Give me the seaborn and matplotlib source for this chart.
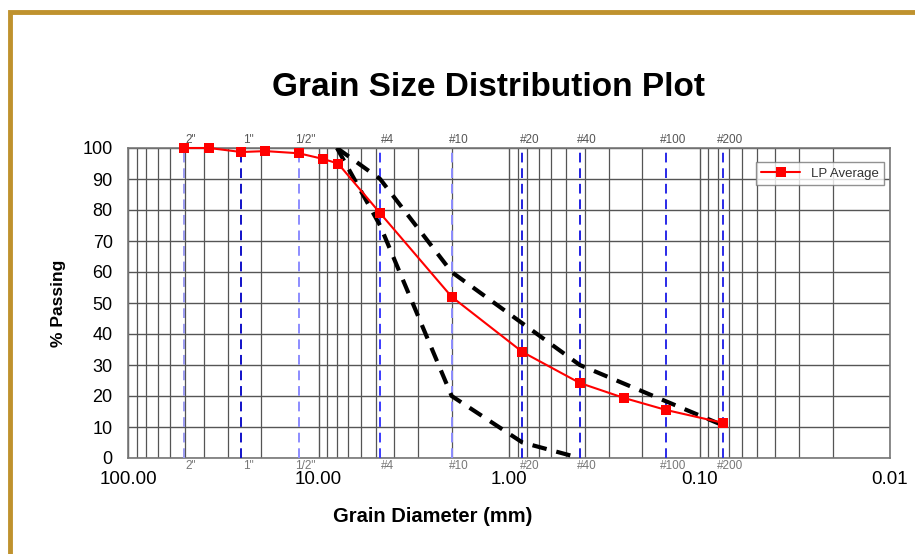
import numpy as np
import pandas as pd
import seaborn as sns
import matplotlib.pyplot as plt
from matplotlib.patches import Rectangle
from matplotlib.ticker import FixedLocator, NullFormatter
import matplotlib.transforms as mtransforms

# LP average gradation (grain diameter in mm, % passing)
lp_diam = [50.8, 37.5, 25.4, 19.0, 12.7, 9.5, 7.9, 4.75, 2.0, 0.85, 0.425, 0.25, 0.15, 0.075]
lp_pass = [100, 100, 98.7, 99, 98.3, 96.5, 95, 79, 52, 34.2, 24.2, 19.4, 15.5, 11.3]

# spec envelope (black dashed)
upper_diam = [8.0, 4.75, 2.0, 0.425, 0.075]
upper_pass = [100, 90, 60, 30, 10.5]
lower_diam = [8.0, 4.75, 2.0, 0.85, 0.425]
lower_pass = [100, 75, 20, 5, 0]

# sieve markers
sieve_names = ['2"', '1"', '1/2"', '#4', '#10', '#20', '#40', '#100', '#200']
sieve_mm = [50.8, 25.4, 12.7, 4.75, 2.0, 0.85, 0.425, 0.15, 0.075]
sieve_colors = ['#9a9af0', '#1010c8', '#8c8cff', '#3a3aff', '#8c8cff',
                '#2020e0', '#2020e0', '#2a2ae8', '#2a2ae8']

x_ticks = [100, 10, 1, 0.1, 0.01]
x_tick_labels = ['100.00', '10.00', '1.00', '0.10', '0.01']
y_ticks = list(range(0, 101, 10))

sns.set_style("white")
plt.rcParams['font.family'] = ['Liberation Sans', 'DejaVu Sans']
plt.rcParams['text.color'] = 'black'
plt.rcParams['axes.labelcolor'] = 'black'
plt.rcParams['xtick.color'] = 'black'
plt.rcParams['ytick.color'] = 'black'

fig = plt.figure(figsize=(9.15, 5.54), dpi=100)
ax = fig.add_axes([128 / 915, 96 / 554, 762 / 915, 310 / 554])

# gold frame around the figure
fig.patches.append(Rectangle((10 / 915, -0.1), 1.2, (554 - 12) / 554 + 0.1,
                             transform=fig.transFigure, fill=False,
                             edgecolor='#bf922e', linewidth=3.5, zorder=0))

ax.set_xscale('log')
ax.set_xlim(100, 0.01)
ax.set_ylim(0, 100)

# log grid
minor = [m * 10.0 ** e for e in range(-2, 2) for m in range(2, 10)]
ax.xaxis.set_major_locator(FixedLocator(x_ticks))
ax.xaxis.set_minor_locator(FixedLocator(minor))
ax.xaxis.set_minor_formatter(NullFormatter())
ax.set_xticklabels(x_tick_labels, fontsize=13.5)
ax.set_yticks(y_ticks)
ax.set_yticks(np.arange(0, 101, 2), minor=True)
ax.tick_params(axis='y', which='major', labelsize=13, length=0, pad=11)
ax.tick_params(axis='y', which='minor', direction='in', length=4, color='#555555')
ax.tick_params(axis='x', which='major', length=4, color='#777777', pad=5)
ax.tick_params(axis='x', which='minor', length=0)
ax.grid(True, which='major', axis='both', color='#555555', linewidth=1.0)
ax.grid(True, which='minor', axis='x', color='#555555', linewidth=0.9)
for s in ax.spines.values():
    s.set_color('#777777')
    s.set_linewidth(1.2)

# sieve lines and labels
top_off = mtransforms.offset_copy(ax.transData, fig=fig, x=7, y=0, units='dots')
for name, d, c in zip(sieve_names, sieve_mm, sieve_colors):
    ax.axvline(d, color=c, linestyle=(0, (5, 3)), linewidth=1.4, zorder=3)
    ax.text(d, 1.005, name, transform=mtransforms.blended_transform_factory(top_off, ax.transAxes),
            ha='center', va='bottom', fontsize=8.5, color='#555555')
    ax.text(d, -0.005, name, transform=mtransforms.blended_transform_factory(top_off, ax.transAxes),
            ha='center', va='top', fontsize=8.5, color='#777777')

env = pd.DataFrame({'diam': upper_diam, 'pass': upper_pass})
sns.lineplot(data=env, x='diam', y='pass', ax=ax, color='black', linewidth=3,
             linestyle=(0, (3.5, 2.4)), sort=False, zorder=4)
env = pd.DataFrame({'diam': lower_diam, 'pass': lower_pass})
sns.lineplot(data=env, x='diam', y='pass', ax=ax, color='black', linewidth=3,
             linestyle=(0, (3.5, 2.4)), sort=False, zorder=4)

lp = pd.DataFrame({'diam': lp_diam, 'pass': lp_pass})
sns.lineplot(data=lp, x='diam', y='pass', ax=ax, color='red', linewidth=1.5,
             marker='s', markersize=6.5, markeredgewidth=0, sort=False,
             label='LP Average', zorder=5, clip_on=False)

leg = ax.legend(loc='upper right', bbox_to_anchor=(1.001, 0.975), fontsize=9.5,
                frameon=True, fancybox=False, handlelength=3, borderpad=0.4)
leg.get_frame().set_edgecolor('#777777')
leg.get_frame().set_linewidth(1.0)
for t in leg.get_texts():
    t.set_color('#333333')

ax.set_xlabel('')
ax.set_ylabel('% Passing', fontsize=12.5, fontweight='bold', labelpad=12)
fig.text(433 / 915, 1 - 516 / 554, 'Grain Diameter (mm)', ha='center', va='center',
         fontsize=14.5, fontweight='bold')
fig.suptitle('Grain Size Distribution Plot', x=488 / 915, y=1 - 88 / 554, va='center',
             fontsize=24, fontweight='bold')

fig.savefig('out.png', dpi=100)
